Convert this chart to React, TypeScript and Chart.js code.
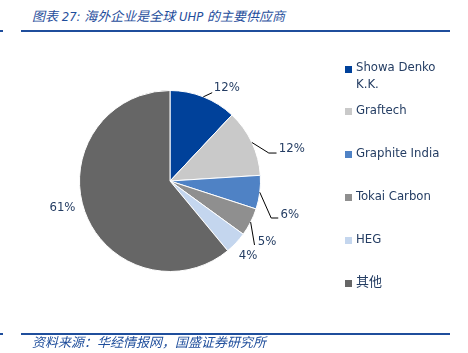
import React, { useEffect, useRef } from "react";
import { Chart, registerables } from "chart.js";

Chart.register(...registerables);

const categories = ["Showa Denko K.K.", "Graftech", "Graphite India", "Tokai Carbon", "HEG", "其他"];
const legendLines = [["Showa Denko", "K.K."], ["Graftech"], ["Graphite India"], ["Tokai Carbon"], ["HEG"], ["其他"]];
const shares = [12, 12, 6, 5, 4, 61];
const sliceColors = ["#00419a", "#c9c9c9", "#4f82c5", "#8f8f8f", "#c4d6ee", "#666666"];

// label layout in radius units relative to the pie centre
const labelLayout = [
  { elbow: null, end: [0.466, -0.976], text: [0.484, -1.033], align: "left" },
  { elbow: [1.092, -0.309], end: [1.177, -0.309], text: [1.202, -0.354], align: "left" },
  { elbow: [1.118, 0.409], end: [1.196, 0.409], text: [1.221, 0.368], align: "left" },
  { elbow: null, end: [0.934, 0.707], text: [0.97, 0.671], align: "left" },
  { elbow: null, end: null, text: [0.76, 0.829], align: "left" },
  { elbow: null, end: null, text: [-1.188, 0.295], align: "center" },
];

const FONT = '"DejaVu Sans Condensed", "DejaVu Sans", "Noto Sans CJK SC", sans-serif';
const TEXT_COLOR = "#243d63";

const labelPlugin = {
  id: "pieLabels",
  afterDatasetsDraw(chart: any) {
    const ctx = chart.ctx;
    const meta = chart.getDatasetMeta(0);
    const data = chart.data.datasets[0].data as number[];
    const total = data.reduce((a, b) => a + b, 0);
    ctx.save();
    ctx.font = "13px " + FONT;
    ctx.textBaseline = "middle";
    meta.data.forEach((arc: any, i: number) => {
      const { x, y, startAngle, endAngle, outerRadius } = arc.getProps(["x", "y", "startAngle", "endAngle", "outerRadius"], true);
      const r = outerRadius;
      const mid = (startAngle + endAngle) / 2;
      const lay = labelLayout[i];
      if (lay.end) {
        ctx.beginPath();
        ctx.strokeStyle = "#000000";
        ctx.lineWidth = 1;
        ctx.moveTo(x + Math.cos(mid) * r, y + Math.sin(mid) * r);
        if (lay.elbow) ctx.lineTo(x + lay.elbow[0] * r, y + lay.elbow[1] * r);
        ctx.lineTo(x + lay.end[0] * r, y + lay.end[1] * r);
        ctx.stroke();
      }
      ctx.fillStyle = TEXT_COLOR;
      ctx.textAlign = lay.align;
      const pct = Math.round((data[i] / total) * 100) + "%";
      ctx.fillText(pct, x + lay.text[0] * r, y + lay.text[1] * r);
    });
    ctx.restore();
  },
  afterDraw(chart: any) {
    const ctx = chart.ctx;
    const colors = chart.data.datasets[0].backgroundColor as string[];
    ctx.save();
    ctx.font = "13px " + FONT;
    ctx.textBaseline = "middle";
    ctx.textAlign = "left";
    const x0 = 345;
    const y0 = 68;
    const step = 43;
    legendLines.forEach((lines, i) => {
      const yc = y0 + i * step;
      ctx.fillStyle = colors[i];
      ctx.fillRect(x0, yc - 3 + (lines.length > 1 ? 1 : 0), 7, 7);
      ctx.fillStyle = TEXT_COLOR;
      lines.forEach((t, j) => ctx.fillText(t, x0 + 11, yc + j * 16.5));
    });
    ctx.restore();
  },
};

export default function App() {
  const ref = useRef<HTMLCanvasElement | null>(null);
  useEffect(() => {
    document.body.style.margin = "0";
    const chart = new Chart(ref.current!, {
      type: "pie",
      data: {
        labels: categories,
        datasets: [
          {
            data: shares,
            backgroundColor: sliceColors,
            borderColor: "#ffffff",
            borderWidth: 1,
          },
        ],
      },
      options: {
        animation: false,
        responsive: false,
        devicePixelRatio: 1,
        layout: { padding: { left: 79, top: 90, right: 207, bottom: 81 } },
        plugins: { legend: { display: false }, tooltip: { enabled: false } },
      },
      plugins: [labelPlugin],
    });
    return () => chart.destroy();
  }, []);

  return (
    <div style={{ position: "relative", width: 468, height: 353, background: "#ffffff", overflow: "hidden" }}>
      <div
        style={{
          position: "absolute",
          left: 32,
          top: 8,
          fontSize: 13,
          lineHeight: "18px",
          fontStyle: "italic",
          color: "#1f4e9c",
          fontFamily: FONT,
          whiteSpace: "nowrap",
        }}
      >
        图表 27: 海外企业是全球 UHP 的主要供应商
      </div>
      <div style={{ position: "absolute", left: 0, top: 30, width: 3, height: 2, background: "#1f4e9c" }} />
      <div style={{ position: "absolute", left: 21, top: 30, width: 429, height: 2, background: "#1f4e9c" }} />
      <canvas ref={ref} width={468} height={353} style={{ position: "absolute", left: 0, top: 0 }} />
      <div style={{ position: "absolute", left: 0, top: 333, width: 3, height: 2, background: "#1f4e9c" }} />
      <div style={{ position: "absolute", left: 21, top: 333, width: 429, height: 2, background: "#1f4e9c" }} />
      <div
        style={{
          position: "absolute",
          left: 32,
          top: 334,
          fontSize: 13,
          lineHeight: "17px",
          fontStyle: "italic",
          color: "#1f4e9c",
          fontFamily: FONT,
          whiteSpace: "nowrap",
        }}
      >
        资料来源：华经情报网，国盛证券研究所
      </div>
    </div>
  );
}
